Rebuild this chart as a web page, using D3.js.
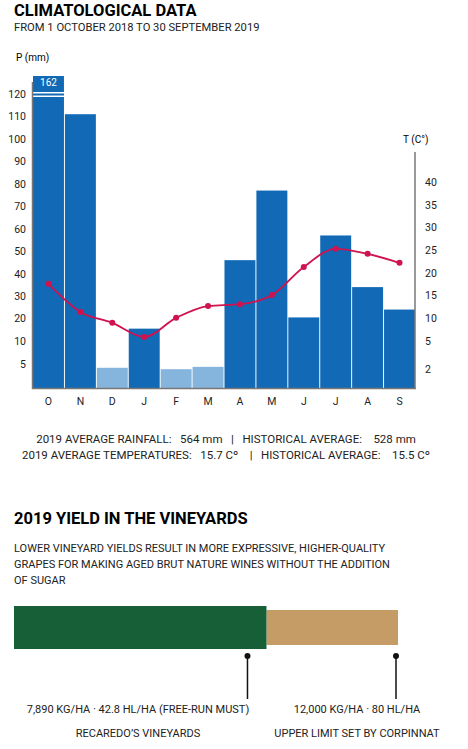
<!DOCTYPE html>
<html lang="en">
<head>
<meta charset="UTF-8">
<title>climatological data</title>
<style>
  body { margin: 0; background: #fff; }
  svg { font-family: Roboto, "Noto Sans", sans-serif; display: block; }
</style>
</head>
<body>
<svg id="chart" width="468" height="749"></svg>
<script src="https://cdn.jsdelivr.net/npm/d3@7"></script>
<script>
var months = ["O", "N", "D", "J", "F", "M", "A", "M", "J", "J", "A", "S"];
var rainfall = [162, 111, 4.3, 15.5, 4, 4.5, 46, 77, 20.5, 57, 34, 24];
var lightBars = [2, 4, 5];
var temperature = [17.6, 11.4, 9.0, 5.9, 10.1, 12.7, 13.1, 15.1, 21.3, 25.3, 24.2, 22.2];
var rainTicks = [5, 10, 20, 30, 40, 50, 60, 70, 80, 90, 100, 110, 120];
var tempTicks = [2, 5, 10, 15, 20, 25, 30, 35, 40];
var yieldKg = [7890, 12000];
var yieldLabels = ["7,890 KG/HA  ·  42.8 HL/HA (FREE-RUN MUST)", "12,000 KG/HA  ·  80 HL/HA"];
var yieldNames = ["RECAREDO’S VINEYARDS", "UPPER LIMIT SET BY CORPINNAT"];

var svg = d3.select("#chart");
var blue = "#1269b5", light = "#85b4dd", red = "#d0124f", grey = "#777";

// headings
svg.append("text").attr("x", 14).attr("y", 16).attr("font-size", 16.5).attr("font-weight", 700).text("CLIMATOLOGICAL DATA");
svg.append("text").attr("x", 14).attr("y", 31).attr("font-size", 11.2).attr("fill", "#222").text("FROM 1 OCTOBER 2018 TO 30 SEPTEMBER 2019");

var x = d3.scaleBand().domain(d3.range(12)).range([33, 415]).paddingInner(0.03);
var yR = d3.scaleLinear().domain([0, 10, 120]).range([388, 341, 94]).clamp(true);
var yT = d3.scaleLinear().domain([0, 5, 40]).range([388, 341, 182]);

// bars
svg.selectAll("rect.bar").data(rainfall).join("rect")
  .attr("class", "bar")
  .attr("x", function(d, i) { return x(i); })
  .attr("width", x.bandwidth())
  .attr("y", function(d) { return d > 120 ? 76 : yR(d); })
  .attr("height", function(d) { return 388 - (d > 120 ? 76 : yR(d)); })
  .attr("fill", function(d, i) { return lightBars.indexOf(i) >= 0 ? light : blue; });

// axis break on the first bar
rainfall.forEach(function(d, i) {
  if (d > 120) {
    svg.append("rect").attr("x", x(i)).attr("width", x.bandwidth()).attr("y", 92).attr("height", 1.5).attr("fill", "#fff");
    svg.append("rect").attr("x", x(i)).attr("width", x.bandwidth()).attr("y", 95.5).attr("height", 1.5).attr("fill", "#fff");
    svg.append("text").attr("x", x(i) + x.bandwidth() / 2).attr("y", 86).attr("text-anchor", "middle")
      .attr("font-size", 10).attr("fill", "#fff").text(d);
  }
});

// axes
var left = svg.append("g").attr("transform", "translate(32,0)")
  .call(d3.axisLeft(yR).tickValues(rainTicks).tickSize(0).tickPadding(6));
left.select(".domain").remove();
left.selectAll("text").attr("font-size", 10.5).attr("fill", "#222").attr("font-family", "Roboto");
svg.append("line").attr("x1", 32.5).attr("x2", 32.5).attr("y1", 82).attr("y2", 389).attr("stroke", grey).attr("stroke-width", 1.5);
svg.append("line").attr("x1", 32).attr("x2", 416).attr("y1", 388.5).attr("y2", 388.5).attr("stroke", grey).attr("stroke-width", 1.5);

var right = svg.append("g").attr("transform", "translate(415,0)")
  .call(d3.axisRight(yT).tickValues(tempTicks).tickSize(0).tickPadding(10));
right.select(".domain").remove();
right.selectAll("text").attr("font-size", 10.5).attr("fill", "#222").attr("font-family", "Roboto");
svg.append("line").attr("x1", 415).attr("x2", 415).attr("y1", 152).attr("y2", 389).attr("stroke", grey).attr("stroke-width", 1.5);

var bottom = svg.append("g").attr("transform", "translate(0,388)")
  .call(d3.axisBottom(x).tickFormat(function(i) { return months[i]; }).tickSize(0).tickPadding(10));
bottom.select(".domain").remove();
bottom.selectAll("text").attr("font-size", 10.5).attr("fill", "#222").attr("font-family", "Roboto");

svg.append("text").attr("x", 16).attr("y", 61).attr("font-size", 10).text("P (mm)");
svg.append("text").attr("x", 403).attr("y", 143).attr("font-size", 10).text("T (C°)");

// temperature line
var line = d3.line().x(function(d, i) { return x(i) + x.bandwidth() / 2; }).y(function(d) { return yT(d); }).curve(d3.curveMonotoneX);
svg.append("path").datum(temperature).attr("d", line).attr("fill", "none").attr("stroke", red).attr("stroke-width", 1.8);
svg.selectAll("circle.t").data(temperature).join("circle").attr("class", "t")
  .attr("cx", function(d, i) { return x(i) + x.bandwidth() / 2; })
  .attr("cy", function(d) { return yT(d); }).attr("r", 3).attr("fill", red);

// averages
svg.append("text").attr("x", 226).attr("y", 443).attr("text-anchor", "middle").attr("font-size", 11.5).attr("fill", "#222")
  .attr("xml:space", "preserve").text("2019 AVERAGE RAINFALL:   564 mm   |   HISTORICAL AVERAGE:    528 mm");
svg.append("text").attr("x", 226).attr("y", 459).attr("text-anchor", "middle").attr("font-size", 11.5).attr("fill", "#222")
  .attr("xml:space", "preserve").text("2019 AVERAGE TEMPERATURES:   15.7 Cº    |   HISTORICAL AVERAGE:    15.5 Cº");

// yield section
svg.append("text").attr("x", 14).attr("y", 524).attr("font-size", 16.5).attr("font-weight", 700).text("2019 YIELD IN THE VINEYARDS");
["LOWER VINEYARD YIELDS RESULT IN MORE EXPRESSIVE, HIGHER-QUALITY",
 "GRAPES FOR MAKING AGED BRUT NATURE WINES WITHOUT THE ADDITION",
 "OF SUGAR"].forEach(function(t, i) {
  svg.append("text").attr("x", 14).attr("y", 552 + i * 16).attr("font-size", 11).attr("fill", "#222").text(t);
});

var xy = d3.scaleLinear().domain([0, 12000]).range([14, 398]);
svg.append("rect").attr("x", xy(yieldKg[0])).attr("y", 610).attr("width", xy(yieldKg[1]) - xy(yieldKg[0])).attr("height", 35).attr("fill", "#c69c66");
svg.append("rect").attr("x", xy(0)).attr("y", 606).attr("width", xy(yieldKg[0]) - xy(0)).attr("height", 43).attr("fill", "#175f37");

var pins = [xy(yieldKg[0]) - 19, xy(yieldKg[1]) - 2];
var labelX = [138, 357];
pins.forEach(function(px, i) {
  svg.append("line").attr("x1", px).attr("x2", px).attr("y1", 656).attr("y2", 699).attr("stroke", "#111").attr("stroke-width", 1.5);
  svg.append("circle").attr("cx", px).attr("cy", 656).attr("r", 3).attr("fill", "#111");
  svg.append("text").attr("x", labelX[i]).attr("y", 713).attr("text-anchor", "middle").attr("font-size", 11).attr("fill", "#222").text(yieldLabels[i]);
  svg.append("text").attr("x", labelX[i]).attr("y", 737).attr("text-anchor", "middle").attr("font-size", 11).attr("fill", "#222").text(yieldNames[i]);
});
</script>
</body>
</html>
